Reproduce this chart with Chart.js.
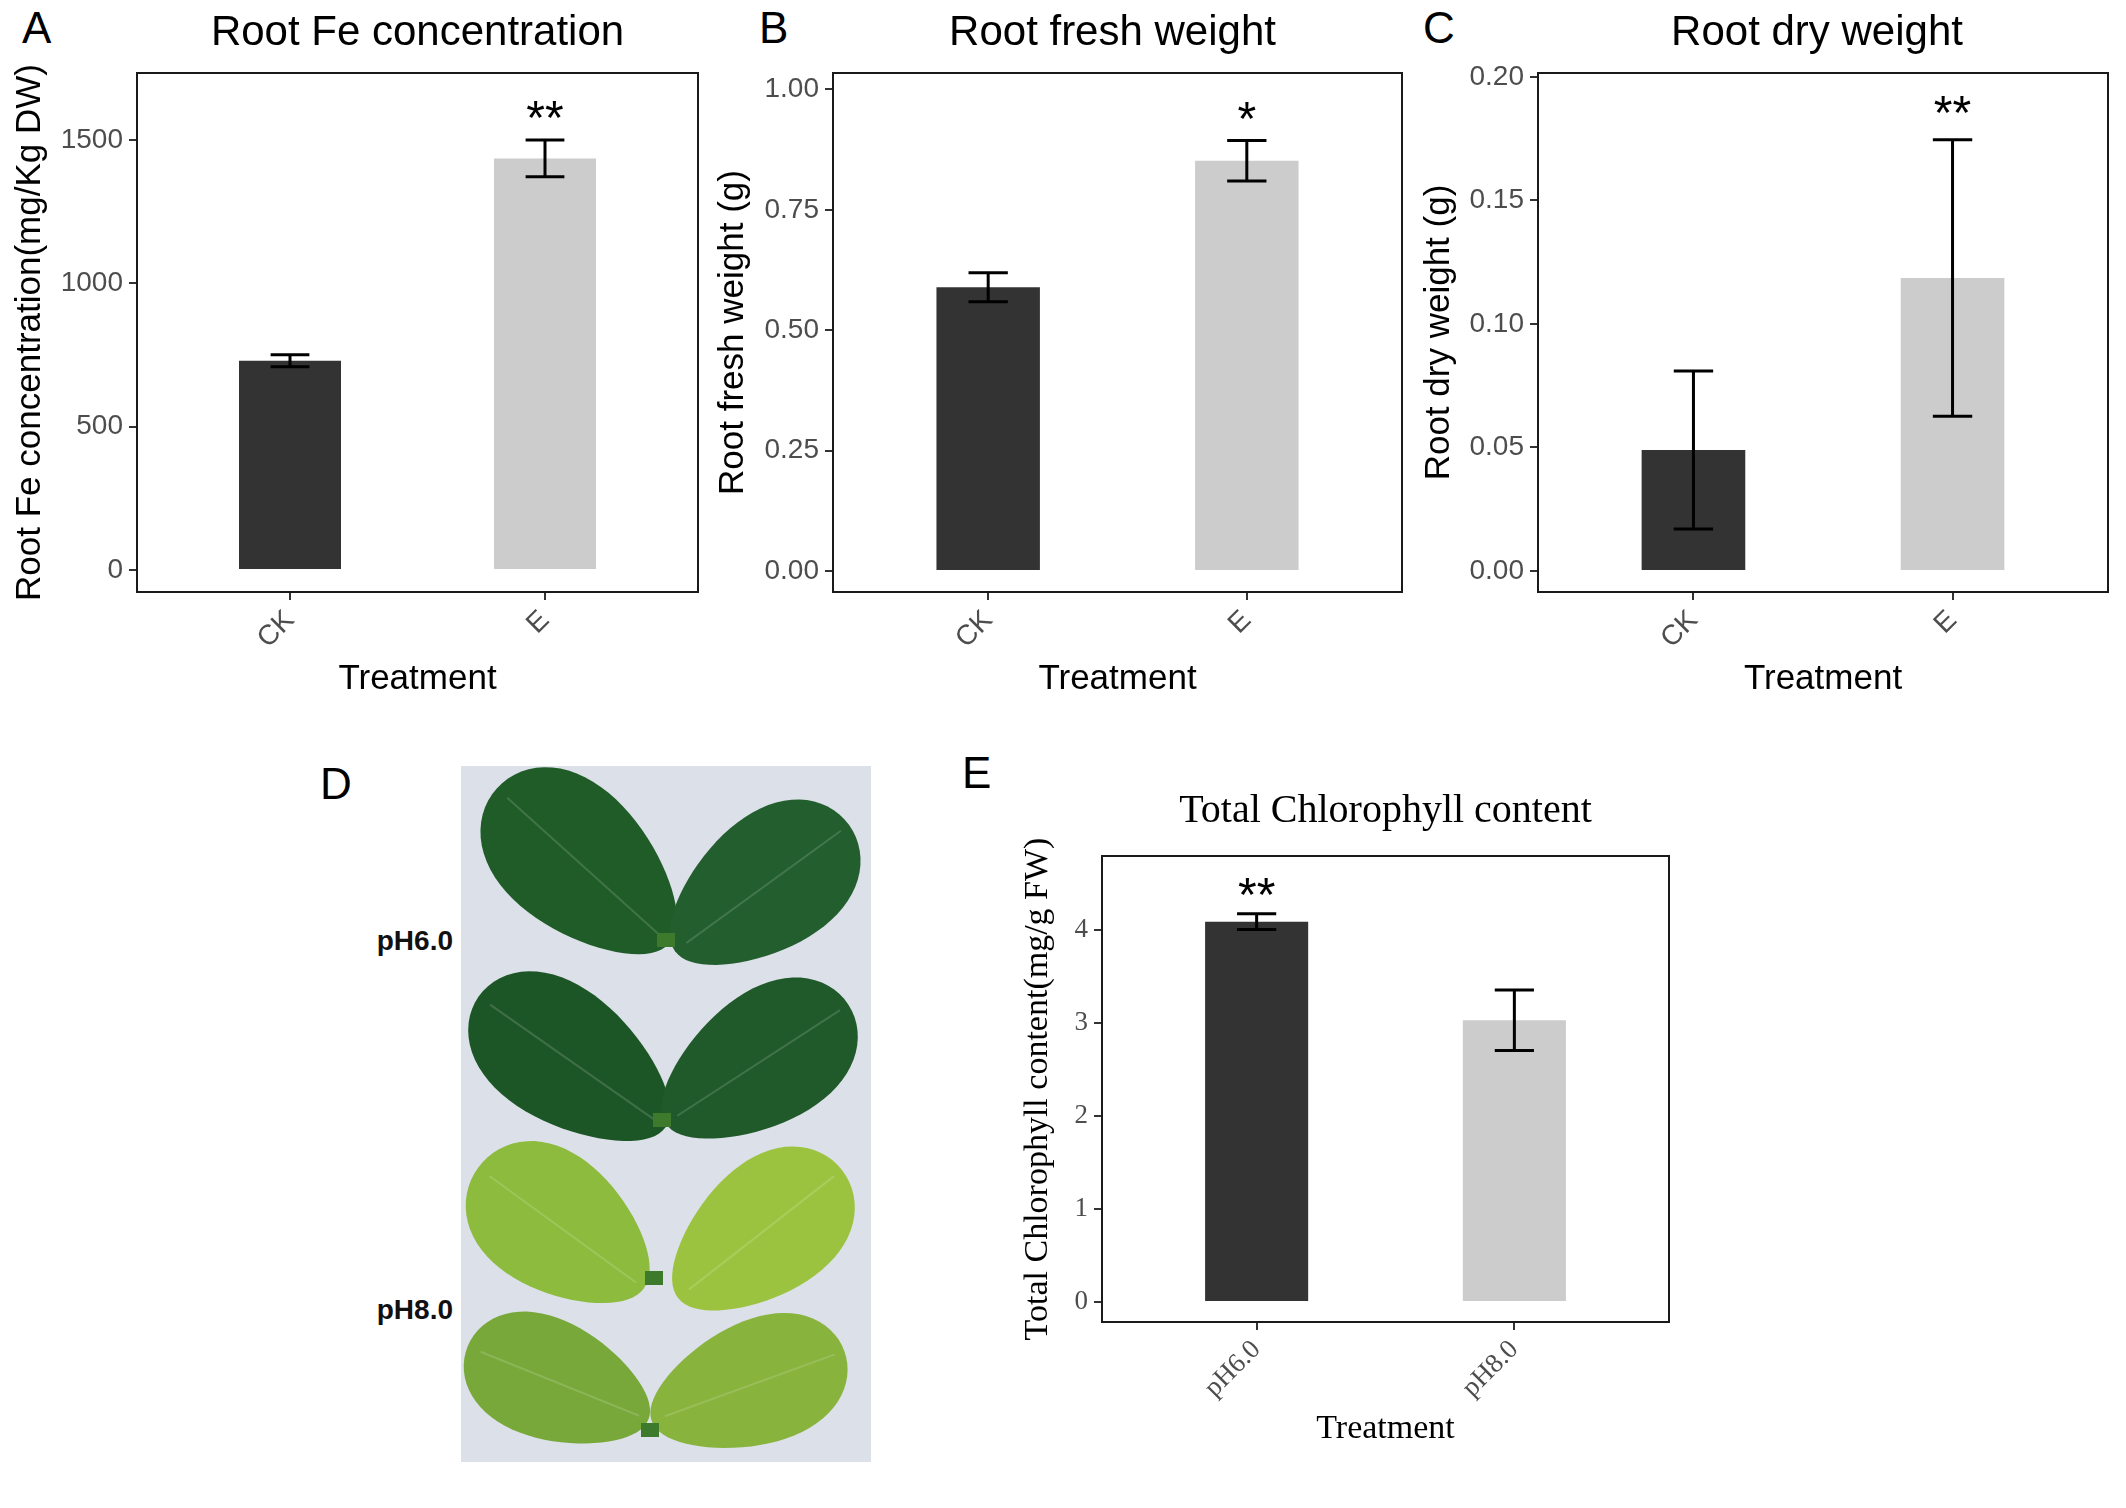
<!DOCTYPE html>
<html lang="en">
<head>
    <meta charset="UTF-8">
    <title>Root Fe, root weight and chlorophyll</title>
    <script src="https://cdn.jsdelivr.net/npm/chart.js"></script>
    <style>
        body {
            margin: 0;
            width: 2126px;
            height: 1508px;
            background-color: #ffffff;
            overflow: hidden;
            position: relative;
        }
        canvas {
            position: absolute;
            left: 0;
            top: 0;
        }
        .panel-label {
            position: absolute;
            font-family: "Liberation Sans", Arial, sans-serif;
            font-size: 44px;
            line-height: 1;
            color: #000;
        }
        .ph-label {
            position: absolute;
            font-family: "Liberation Sans", Arial, sans-serif;
            font-weight: bold;
            font-size: 28px;
            line-height: 1;
            color: #111;
            text-align: right;
            width: 120px;
        }
    </style>
</head>
<body>
    <div class="panel-label" style="left:22px; top:6px;">A</div>
    <div class="panel-label" style="left:759px; top:6px;">B</div>
    <div class="panel-label" style="left:1423px; top:6px;">C</div>
    <div class="panel-label" style="left:320px; top:762px;">D</div>
    <div class="panel-label" style="left:962px; top:751px;">E</div>

    <canvas id="photoCanvas" width="410" height="696" style="left:461px; top:766px;"></canvas>
    <div class="ph-label" style="left:333px; top:927px;">pH6.0</div>
    <div class="ph-label" style="left:333px; top:1296px;">pH8.0</div>

    <canvas id="feChart" width="2126" height="1508"></canvas>
    <canvas id="freshChart" width="2126" height="1508"></canvas>
    <canvas id="dryChart" width="2126" height="1508"></canvas>
    <canvas id="chloroChart" width="2126" height="1508"></canvas>

    <script>
        // treatments
        const treatmentLabels = ['CK', 'E'];
        const phLabels = ['pH6.0', 'pH8.0'];

        // A - root Fe concentration (mg/Kg DW)
        const feMeans = [730, 1436];
        const feErrors = [21, 64];
        const feMarks = ['', '**'];
        const feMarkY = [null, 1590];
        const feTicks = [0, 500, 1000, 1500];

        // B - root fresh weight (g)
        const freshMeans = [0.589, 0.852];
        const freshErrors = [0.030, 0.042];
        const freshMarks = ['', '*'];
        const freshMarkY = [null, 0.947];
        const freshTicks = [0, 0.25, 0.5, 0.75, 1.0];

        // C - root dry weight (g)
        const dryMeans = [0.049, 0.1186];
        const dryErrors = [0.032, 0.056];
        const dryMarks = ['', '**'];
        const dryMarkY = [null, 0.187];
        const dryTicks = [0, 0.05, 0.10, 0.15, 0.20];

        // E - total chlorophyll (mg/g FW)
        const chloroMeans = [4.09, 3.03];
        const chloroErrors = [0.085, 0.325];
        const chloroMarks = ['**', ''];
        const chloroMarkY = [4.42, null];
        const chloroTicks = [0, 1, 2, 3, 4];

        const barColors = ['#333333', '#cccccc'];
        const tickColor = '#4d4d4d';
        const SANS = '"Liberation Sans", Arial, sans-serif';
        const SERIF = '"Liberation Serif", "Times New Roman", serif';

        // extra drawing for each panel: frame, error bars, stars, title
        function panelExtras(p) {
            return {
                id: 'panelExtras',
                afterDatasetsDraw(chart) {
                    const ctx = chart.ctx;
                    const xs = chart.scales.x;
                    const ys = chart.scales.y;
                    const area = chart.chartArea;
                    ctx.save();

                    // error bars
                    ctx.strokeStyle = '#000';
                    ctx.lineWidth = 3;
                    p.means.forEach((m, i) => {
                        const e = p.errors[i];
                        const x = xs.getPixelForValue(i);
                        const xl = xs.getPixelForValue(i - 0.076);
                        const xr = xs.getPixelForValue(i + 0.076);
                        const yt = ys.getPixelForValue(m + e);
                        const yb = ys.getPixelForValue(m - e);
                        ctx.beginPath();
                        ctx.moveTo(x, yt); ctx.lineTo(x, yb);
                        ctx.moveTo(xl, yt); ctx.lineTo(xr, yt);
                        ctx.moveTo(xl, yb); ctx.lineTo(xr, yb);
                        ctx.stroke();
                    });

                    // significance stars
                    ctx.fillStyle = '#000';
                    ctx.font = '48px ' + SANS;
                    ctx.textAlign = 'center';
                    ctx.textBaseline = 'alphabetic';
                    p.marks.forEach((s, i) => {
                        if (!s) return;
                        ctx.fillText(s, xs.getPixelForValue(i), ys.getPixelForValue(p.markY[i]) + 20);
                    });

                    // panel frame
                    ctx.lineWidth = 2;
                    ctx.strokeStyle = '#1a1a1a';
                    ctx.strokeRect(area.left, area.top, area.right - area.left, area.bottom - area.top);

                    // title centred on the panel
                    ctx.font = p.titleSize + 'px ' + p.font;
                    ctx.textBaseline = 'middle';
                    ctx.fillText(p.title, (area.left + area.right) / 2 + p.titleShift, p.titleY);
                    ctx.restore();
                }
            };
        }

        function buildPanel(id, p) {
            const ctx = document.getElementById(id).getContext('2d');
            return new Chart(ctx, {
                type: 'bar',
                data: {
                    datasets: [{
                        data: p.means.map((m, i) => ({ x: i, y: m })),
                        backgroundColor: barColors,
                        borderWidth: 0,
                        barPercentage: 0.4,
                        categoryPercentage: 1.0
                    }]
                },
                options: {
                    responsive: false,
                    animation: false,
                    devicePixelRatio: 1,
                    layout: { padding: p.pad },
                    plugins: {
                        legend: { display: false },
                        tooltip: { enabled: false }
                    },
                    scales: {
                        x: {
                            type: 'linear',
                            min: -0.6,
                            max: 1.6,
                            offset: false,
                            afterBuildTicks: s => { s.ticks = p.labels.map((_, i) => ({ value: i })); },
                            afterFit: s => { s.height = p.xHeight; },
                            ticks: {
                                callback: v => p.labels[v],
                                minRotation: 45,
                                maxRotation: 45,
                                autoSkip: false,
                                color: tickColor,
                                padding: 4,
                                font: { family: p.font, size: p.tickSize }
                            },
                            grid: {
                                display: true,
                                offset: false,
                                drawOnChartArea: false,
                                drawTicks: true,
                                tickLength: 8,
                                color: '#333333',
                                lineWidth: 2
                            },
                            border: { display: false },
                            title: {
                                display: true,
                                text: 'Treatment',
                                color: '#000',
                                padding: 0,
                                font: { family: p.font, size: p.axisTitleSize, lineHeight: 1 }
                            }
                        },
                        y: {
                            min: p.yMin,
                            max: p.yMax,
                            afterBuildTicks: s => { s.ticks = p.yTicks.map(v => ({ value: v })); },
                            afterFit: s => { s.width = p.yWidth; },
                            ticks: {
                                callback: v => p.decimals ? v.toFixed(p.decimals) : String(v),
                                color: tickColor,
                                padding: 6,
                                font: { family: p.font, size: p.tickSize }
                            },
                            grid: {
                                display: true,
                                drawOnChartArea: false,
                                drawTicks: true,
                                tickLength: 8,
                                color: '#333333',
                                lineWidth: 2
                            },
                            border: { display: false },
                            title: {
                                display: true,
                                text: p.yTitle,
                                color: '#000',
                                padding: 0,
                                font: { family: p.font, size: p.axisTitleSize, lineHeight: 1 }
                            }
                        }
                    }
                },
                plugins: [panelExtras(p)]
            });
        }

        // egg shaped leaf, narrow end towards the stem (base = +1 or -1 along the local x axis)
        function leafPath(ctx, len, wid, base) {
            const a = len / 2, b = wid / 2;
            ctx.beginPath();
            for (let k = 0; k <= 72; k++) {
                const t = k / 72 * Math.PI * 2;
                const c = Math.cos(t);
                const px = a * c;
                const py = b * Math.sin(t) * (1 - 0.22 * base * c);
                if (k === 0) ctx.moveTo(px, py); else ctx.lineTo(px, py);
            }
            ctx.closePath();
        }

        // the leaf photo of panel D, sketched
        function drawPhoto() {
            const c = document.getElementById('photoCanvas');
            const ctx = c.getContext('2d');
            ctx.fillStyle = '#dce0e9';
            ctx.fillRect(0, 0, c.width, c.height);
            const ox = 461, oy = 766;
            const leaves = [
                [583, 866, 232, 140, 42, 1, '#1f5c28'], [762, 888, 215, 132, -36, -1, '#235f2e'],
                [572, 1062, 228, 132, 35, 1, '#1d5626'], [757, 1064, 218, 130, -33, -1, '#205a2a'],
                [561, 1228, 205, 134, 36, 1, '#8cbb3d'], [760, 1234, 208, 130, -38, -1, '#9cc33f'],
                [558, 1383, 195, 118, 22, 1, '#78a83a'], [748, 1386, 205, 122, -20, -1, '#88b33d']
            ];
            leaves.forEach(([x, y, len, wid, ang, base, col]) => {
                ctx.save();
                ctx.translate(x - ox, y - oy);
                ctx.rotate(ang * Math.PI / 180);
                ctx.fillStyle = col;
                leafPath(ctx, len, wid, base);
                ctx.fill();
                ctx.strokeStyle = 'rgba(255,255,255,0.15)';
                ctx.lineWidth = 2;
                ctx.beginPath();
                ctx.moveTo(-len / 2 + 14, 0);
                ctx.lineTo(len / 2 - 10, 0);
                ctx.stroke();
                ctx.restore();
            });
            // stems
            ctx.fillStyle = '#3d7a2c';
            [[666, 940], [662, 1120], [654, 1278], [650, 1430]].forEach(([x, y]) => {
                ctx.fillRect(x - ox - 9, y - oy - 7, 18, 14);
            });
        }

        buildPanel('feChart', {
            labels: treatmentLabels, means: feMeans, errors: feErrors,
            marks: feMarks, markY: feMarkY, yTicks: feTicks, decimals: 0,
            yMin: -77, yMax: 1734,
            title: 'Root Fe concentration', yTitle: 'Root Fe concentration(mg/Kg DW)',
            font: SANS, tickSize: 28, axisTitleSize: 35, titleSize: 42, titleY: 33, titleShift: 0,
            pad: { left: 13, top: 73, right: 1428, bottom: 811 }, yWidth: 124, xHeight: 105
        });

        buildPanel('freshChart', {
            labels: treatmentLabels, means: freshMeans, errors: freshErrors,
            marks: freshMarks, markY: freshMarkY, yTicks: freshTicks, decimals: 2,
            yMin: -0.0436, yMax: 1.034,
            title: 'Root fresh weight', yTitle: 'Root fresh weight (g)',
            font: SANS, tickSize: 28, axisTitleSize: 35, titleSize: 42, titleY: 33, titleShift: -5,
            pad: { left: 716, top: 73, right: 724, bottom: 811 }, yWidth: 117, xHeight: 105
        });

        buildPanel('dryChart', {
            labels: treatmentLabels, means: dryMeans, errors: dryErrors,
            marks: dryMarks, markY: dryMarkY, yTicks: dryTicks, decimals: 2,
            yMin: -0.0085, yMax: 0.2016,
            title: 'Root dry weight', yTitle: 'Root dry weight (g)',
            font: SANS, tickSize: 28, axisTitleSize: 35, titleSize: 42, titleY: 33, titleShift: -6,
            pad: { left: 1422, top: 73, right: 18, bottom: 811 }, yWidth: 116, xHeight: 105
        });

        buildPanel('chloroChart', {
            labels: phLabels, means: chloroMeans, errors: chloroErrors,
            marks: chloroMarks, markY: chloroMarkY, yTicks: chloroTicks, decimals: 0,
            yMin: -0.215, yMax: 4.796,
            title: 'Total Chlorophyll content', yTitle: 'Total Chlorophyll content(mg/g FW)',
            font: SERIF, tickSize: 27, axisTitleSize: 34, titleSize: 40, titleY: 811, titleShift: 0,
            pad: { left: 1021, top: 856, right: 457, bottom: 62 }, yWidth: 81, xHeight: 124
        });

        drawPhoto();
    </script>
</body>
</html>
